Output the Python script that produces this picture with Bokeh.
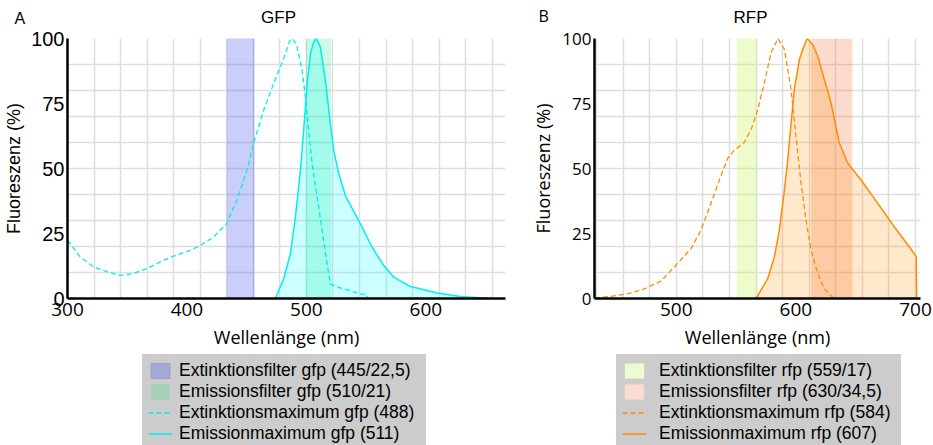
from bokeh.plotting import figure
from bokeh.layouts import row, column
from bokeh.models import (Range1d, Legend, LegendItem, Label, FixedTicker,
                          SingleIntervalTicker, ColumnDataSource)
from bokeh.embed import file_html
from bokeh.resources import INLINE

# ---------------- data: GFP ----------------
gfp_ex_nm = [300, 310.6, 321.8, 333, 344, 355, 366.5, 377.6, 388.8, 400, 410.6, 422.3,
             432.9, 441.9, 450.3, 455.8, 464.2, 472.6, 481, 486, 488, 491.6, 496.4,
             499.2, 501.9, 504.8, 509, 513.2, 517.3, 520.1, 525, 531.3, 545.2, 550.9, 550.9]
gfp_ex_pct = [22.4, 16.0, 12.2, 10.3, 8.9, 9.6, 11.5, 14.1, 16.3, 18, 20.2, 23.7,
              28.6, 37.8, 49.4, 59.6, 72.4, 82.7, 92.3, 99.0, 100, 98, 87.7,
              77.4, 64.6, 51.8, 39, 26.2, 13.3, 5.6, 4.5, 3.7, 1.8, 1.5, 0]
gfp_em_nm = [474, 481, 486.6, 490.8, 495, 497.7, 500.6, 503.4, 506.1, 508.4, 511.7,
             515.9, 520.1, 522.9, 527.1, 532.7, 545.2, 555, 564.8, 573.2, 587.2,
             609.5, 629, 651.4]
gfp_em_pct = [0, 7.6, 17.2, 31.3, 49.2, 64.6, 82.6, 94.1, 98.6, 100, 96.7,
              83.9, 67.2, 56.9, 48, 39.6, 28.7, 19.7, 12.7, 8.2, 4.6,
              2.1, 0.8, 0.1]
gfp_filter_center = [445, 510]
gfp_filter_width = [22.5, 21]

# ---------------- data: RFP ----------------
rfp_ex_nm = [432, 445.3, 459.3, 473.2, 487.2, 498.3, 512.3, 520.6, 529, 536, 543,
             548.5, 556.3, 562.5, 568.1, 573.6, 579.2, 585, 590.4, 596, 600.1,
             604.3, 608.5, 612.7, 618.3, 623.8, 630.8]
rfp_ex_pct = [0.2, 0.8, 1.8, 3.7, 6.7, 12.1, 19.2, 26.3, 36.6, 45.6, 53.9,
              57.1, 59.7, 64.9, 72.6, 82.9, 94.5, 100, 95.8, 80.3, 62.3,
              44.3, 30.1, 18.5, 9.5, 3.7, 0.5]
rfp_em_nm = [566.7, 576.4, 582, 586.2, 590.4, 593.2, 596, 598.7, 602.9, 605.7, 609.3,
             614.1, 618.3, 623.8, 629.4, 636.4, 643.4, 654.5, 668.5, 682.4, 695,
             700.6, 701]
rfp_em_pct = [0, 7.6, 16, 26.3, 41.7, 53.3, 67.4, 80.3, 91.9, 95.8, 100,
              97.7, 93.2, 84.2, 75.2, 59.7, 52, 45.6, 36.6, 27.5, 19.8,
              16.2, 0]
rfp_filter_center = [559, 630]
rfp_filter_width = [17, 34.5]

gfp_labels = ["Extinktionsfilter gfp (445/22,5)", "Emissionsfilter gfp (510/21)",
              "Extinktionsmaximum gfp (488)", "Emissionmaximum gfp (511)"]
rfp_labels = ["Extinktionsfilter rfp (559/17)", "Emissionsfilter rfp (630/34,5)",
              "Extinktionsmaximum rfp (584)", "Emissionmaximum rfp (607)"]
y_ticks = [0, 25, 50, 75, 100]

ARIAL = "Liberation Sans"
OPEN = "Open Sans"

# styles
GFP_EX_FILTER = dict(fill_color=(40, 60, 235), fill_alpha=0.25, line_color=(40, 60, 235), line_alpha=0.15)
GFP_EM_FILTER = dict(fill_color=(0, 230, 118), fill_alpha=0.2, line_color=None)
GFP_LINE = "#00eeee"
RFP_EX_FILTER = dict(fill_color="#d4f57a", fill_alpha=0.4, line_color=None)
RFP_EM_FILTER = dict(fill_color=(245, 110, 50), fill_alpha=0.25, line_color=None)
RFP_LINE = "#ff8c00"
DASH = "5 3"


def style(p, ytick_font, ytick_size, ylab_font, xtick_size, grid_ticks):
    p.outline_line_color = None
    p.background_fill_color = "white"
    p.border_fill_color = "white"
    p.xgrid.ticker = FixedTicker(ticks=grid_ticks)
    p.ygrid.ticker = SingleIntervalTicker(interval=10)
    for g in (p.xgrid[0], p.ygrid[0]):
        g.grid_line_color = "#dedede"
        g.grid_line_width = 1.5
    p.xaxis.ticker = SingleIntervalTicker(interval=100)
    p.yaxis.ticker = FixedTicker(ticks=y_ticks)
    for ax in (p.xaxis[0], p.yaxis[0]):
        ax.axis_line_color = "black"
        ax.axis_line_width = 2.5
        ax.major_tick_line_color = None
        ax.minor_tick_line_color = None
        ax.major_tick_out = 0
        ax.major_tick_in = 0
        ax.minor_tick_out = 0
        ax.minor_tick_in = 0
        ax.major_label_text_color = "black"
        ax.axis_label_text_color = "black"
        ax.axis_label_text_font_style = "normal"
    p.xaxis.major_label_text_font = OPEN
    p.xaxis.major_label_text_font_size = xtick_size
    p.xaxis.major_label_standoff = 4
    p.xaxis.axis_label = "Wellenlänge (nm)"
    p.xaxis.axis_label_text_font = OPEN
    p.xaxis.axis_label_text_font_size = "18px"
    p.xaxis.axis_label_standoff = 6
    p.yaxis.major_label_text_font = ytick_font
    p.yaxis.major_label_text_font_size = ytick_size
    p.yaxis.major_label_standoff = 3
    p.yaxis.axis_label = "Fluoreszenz (%)"
    p.yaxis.axis_label_text_font = ylab_font
    p.yaxis.axis_label_text_font_size = "18px"
    p.yaxis.axis_label_standoff = 4


def blank(width, height, left):
    f = figure(width=width, height=height, x_range=Range1d(0, 1), y_range=Range1d(0, 1),
               x_axis_type=None, y_axis_type=None,
               output_backend="svg", toolbar_location=None,
               min_border_left=left, min_border_right=0, min_border_top=0, min_border_bottom=0)
    f.grid.visible = False
    f.outline_line_color = None
    f.background_fill_color = "white"
    f.border_fill_color = "white"
    return f


def header(width, letter, letter_font, letter_x, title, title_x):
    h = blank(width, 26, 0)
    h.add_layout(Label(x=letter_x, y=0, x_units="screen", y_units="screen", text=letter,
                       text_font=letter_font, text_font_size="16px", text_color="black"))
    h.add_layout(Label(x=title_x, y=0, x_units="screen", y_units="screen", text=title,
                       text_align="center", text_font=ARIAL, text_font_size="17px",
                       text_color="black"))
    return h


def legend_panel(width, left, labels, ex_f, em_f, line_color, label_width, standoff):
    f = blank(width, 95, left)
    # legend-only proxies: a single undefined point, so nothing is drawn in the frame
    proxy = ColumnDataSource(data=dict(x=[float("nan")], top=[float("nan")]))
    r1 = f.vbar(x="x", top="top", width=1, source=proxy, **ex_f)
    r2 = f.vbar(x="x", top="top", width=1, source=proxy, **em_f)
    r3 = f.line(x="x", y="top", source=proxy, line_color=line_color, line_width=1.5, line_dash=DASH)
    r4 = f.line(x="x", y="top", source=proxy, line_color=line_color, line_width=1.5)
    leg = Legend(items=[LegendItem(label=labels[0], renderers=[r1]),
                        LegendItem(label=labels[1], renderers=[r2]),
                        LegendItem(label=labels[2], renderers=[r3]),
                        LegendItem(label=labels[3], renderers=[r4])],
                 location="top_left")
    leg.background_fill_color = "#cccccc"
    leg.background_fill_alpha = 1
    leg.border_line_color = "#cccccc"
    leg.border_line_width = 1
    leg.padding = 5
    leg.spacing = 0
    leg.margin = 0
    leg.glyph_width = 24
    leg.glyph_height = 19
    leg.label_height = 20
    leg.label_standoff = standoff
    leg.label_width = label_width
    leg.label_text_font = ARIAL
    leg.label_text_font_size = "17.5px"
    leg.label_text_color = "black"
    f.add_layout(leg)
    return f


# ================= Panel A: GFP =================
pA = figure(width=520, height=328, x_range=Range1d(300, 666.7), y_range=Range1d(0, 100),
            output_backend="svg", toolbar_location=None,
            min_border_left=67, min_border_right=15, min_border_top=12, min_border_bottom=56)
style(pA, ARIAL, "20px", ARIAL, "19px", [500 + k * 200 / 9 for k in range(-9, 8)])

pA.vbar(x=gfp_filter_center[0:1], width=gfp_filter_width[0:1], top=100, bottom=0, **GFP_EX_FILTER)
pA.vbar(x=gfp_filter_center[1:2], width=gfp_filter_width[1:2], top=100, bottom=0, **GFP_EM_FILTER)
pA.varea(x=gfp_em_nm, y1=0, y2=gfp_em_pct, fill_color=(0, 255, 255), fill_alpha=0.2)
pA.line(gfp_ex_nm, gfp_ex_pct, line_color=GFP_LINE, line_width=1.3, line_dash=DASH)
pA.line(gfp_em_nm, gfp_em_pct, line_color=GFP_LINE, line_width=1.5)

# ================= Panel B: RFP =================
pB = figure(width=413, height=328, x_range=Range1d(431.6, 704.2), y_range=Range1d(0, 100),
            output_backend="svg", toolbar_location=None,
            min_border_left=74, min_border_right=13, min_border_top=12, min_border_bottom=56)
style(pB, OPEN, "17px", OPEN, "19px", [500 + k * 200 / 9 for k in range(-3, 10)])

pB.vbar(x=rfp_filter_center[0:1], width=rfp_filter_width[0:1], top=100, bottom=0, **RFP_EX_FILTER)
pB.vbar(x=rfp_filter_center[1:2], width=rfp_filter_width[1:2], top=100, bottom=0, **RFP_EM_FILTER)
pB.varea(x=rfp_em_nm, y1=0, y2=rfp_em_pct, fill_color=(255, 140, 0), fill_alpha=0.2)
pB.line(rfp_ex_nm, rfp_ex_pct, line_color=RFP_LINE, line_width=1.3, line_dash=DASH)
pB.line(rfp_em_nm, rfp_em_pct, line_color=RFP_LINE, line_width=1.5)

hA = header(520, "A", ARIAL, 14, "GFP", 278)
hB = header(413, "B", OPEN, 18, "RFP", 230)

lA = legend_panel(520, 142, gfp_labels, GFP_EX_FILTER, GFP_EM_FILTER, GFP_LINE, 241, 7)
lB = legend_panel(413, 96, rfp_labels,
                  dict(fill_color="#ecfcd2", line_color=None),
                  dict(fill_color="#fcdcce", line_color=None), RFP_LINE, 236, 13)

layout = column(row(hA, hB), row(pA, pB), row(lA, lB))
open("out.html", "w").write(file_html(layout, INLINE))
